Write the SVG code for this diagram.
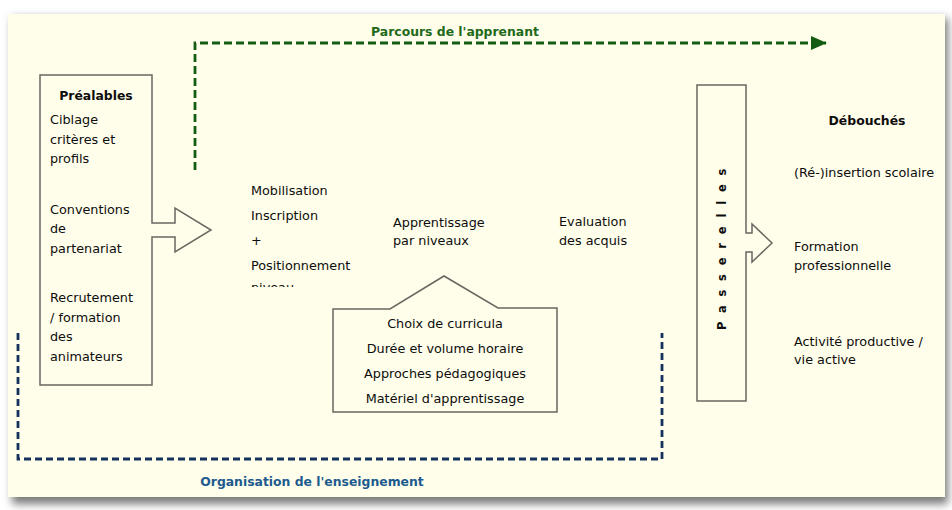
<svg xmlns="http://www.w3.org/2000/svg" width="952" height="510" viewBox="0 0 952 510">
  <defs>
    <filter id="shadow" x="-5%" y="-5%" width="110%" height="115%">
      <feGaussianBlur stdDeviation="4"/>
    </filter>
    <marker id="greenHead" viewBox="0 0 16 14" refX="15" refY="7" markerWidth="16" markerHeight="14" markerUnits="userSpaceOnUse" orient="auto">
      <path d="M0,0 L16,7 L0,14 Z" fill="#145c14"/>
    </marker>
    <clipPath id="clipNiveau">
      <rect x="240" y="270" width="120" height="17"/>
    </clipPath>
    <style>
      .t { font-family: "DejaVu Sans", "Liberation Sans", sans-serif; font-size: 12.8px; fill: #0d0d0d; }
      .b { font-weight: bold; font-size: 12.4px; }
      .box { fill: none; stroke: #6b6660; stroke-width: 1.5; }
      .green { fill: none; stroke: #145c14; stroke-width: 2.8; stroke-dasharray: 8 4; }
      .blue { fill: none; stroke: #15315e; stroke-width: 2.8; stroke-dasharray: 7 4; }
    </style>
  </defs>

  <!-- background panel -->
  <rect x="0" y="0" width="952" height="510" fill="#ffffff"/>
  <rect x="12" y="18" width="936" height="486" fill="#7a7a7a" filter="url(#shadow)"/>
  <rect x="8" y="14" width="937" height="483" fill="#fffeea"/>

  <!-- connectors -->
  <g id="connectors">
    <path class="green" d="M195,170 V43 H826" marker-end="url(#greenHead)"/>
    <text class="t b" x="455" y="36" text-anchor="middle" style="fill:#1f6a1a">Parcours de l'apprenant</text>
    <path class="blue" d="M18,333 V459 H662 V333"/>
    <text class="t b" x="312" y="486" text-anchor="middle" style="fill:#1d5a8e">Organisation de l'enseignement</text>
  </g>

  <!-- Préalables -->
  <g id="prealables">
    <path class="box" d="M40,75 H152 V223 H175 V208 L211,230 L175,252 V237 H152 V385 H40 Z"/>
    <text class="t b" x="96" y="100" text-anchor="middle">Préalables</text>
    <text class="t" x="50" y="124">Ciblage</text>
    <text class="t" x="50" y="144">critères et</text>
    <text class="t" x="50" y="163">profils</text>
    <text class="t" x="50" y="214">Conventions</text>
    <text class="t" x="50" y="233">de</text>
    <text class="t" x="50" y="253">partenariat</text>
    <text class="t" x="50" y="302">Recrutement</text>
    <text class="t" x="50" y="322">/ formation</text>
    <text class="t" x="50" y="341">des</text>
    <text class="t" x="50" y="361">animateurs</text>
  </g>

  <!-- Mobilisation -->
  <g id="mobilisation">
    <text class="t" x="251" y="195">Mobilisation</text>
    <text class="t" x="251" y="220">Inscription</text>
    <text class="t" x="251" y="245">+</text>
    <text class="t" x="251" y="270">Positionnement</text>
    <text class="t" x="251" y="292" clip-path="url(#clipNiveau)">niveau</text>
  </g>

  <!-- Apprentissage -->
  <g id="apprentissage">
    <text class="t" x="393" y="227">Apprentissage</text>
    <text class="t" x="393" y="245">par niveaux</text>
  </g>

  <!-- Evaluation -->
  <g id="evaluation">
    <text class="t" x="559" y="226">Evaluation</text>
    <text class="t" x="559" y="245">des acquis</text>
  </g>

  <!-- Organisation box (pentagon) -->
  <g id="organisation-box">
    <path class="box" d="M333,309 H390 L444,276 L498,308 H557 V412 H333 Z"/>
    <text class="t" x="445" y="328" text-anchor="middle">Choix de curricula</text>
    <text class="t" x="445" y="353" text-anchor="middle">Durée et volume horaire</text>
    <text class="t" x="445" y="378" text-anchor="middle">Approches pédagogiques</text>
    <text class="t" x="445" y="403" text-anchor="middle">Matériel d'apprentissage</text>
  </g>

  <!-- Passerelles -->
  <g id="passerelles">
    <path class="box" d="M697,85 H746 V233 H752 V224 L772,243 L752,262 V252 H746 V401 H697 Z"/>
    <text class="t" x="0" y="0" transform="translate(726,330) rotate(-90)" style="font-size:11.5px;letter-spacing:8.8px;font-weight:bold">Passerelles</text>
  </g>

  <!-- Débouchés -->
  <g id="debouches">
    <text class="t b" x="867" y="125" text-anchor="middle">Débouchés</text>
    <text class="t" x="794" y="177">(Ré-)insertion scolaire</text>
    <text class="t" x="794" y="251">Formation</text>
    <text class="t" x="794" y="270">professionnelle</text>
    <text class="t" x="794" y="346">Activité productive /</text>
    <text class="t" x="794" y="364">vie active</text>
  </g>
</svg>
